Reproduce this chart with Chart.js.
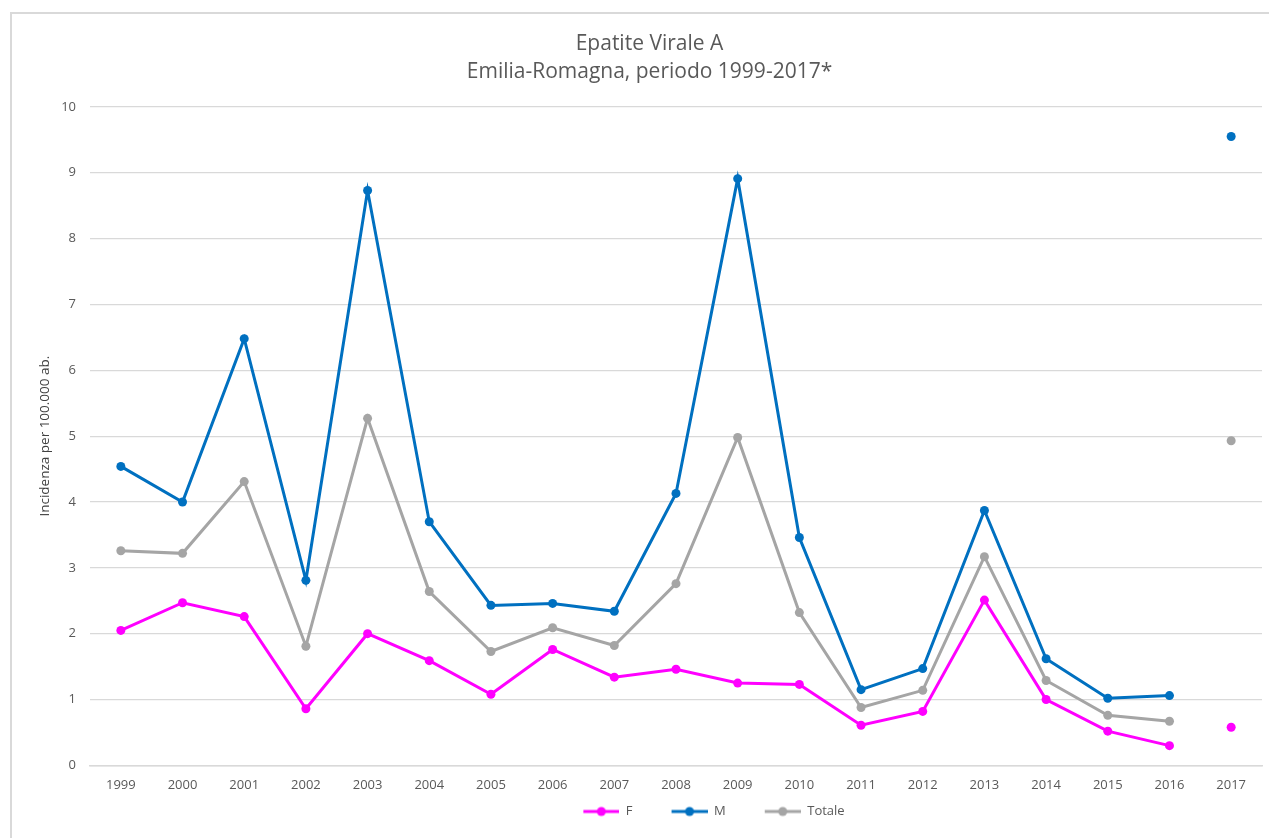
<!DOCTYPE html>
<html>
<head>
<meta charset="utf-8">
<script src="https://cdn.jsdelivr.net/npm/chart.js@4.4.1/dist/chart.umd.min.js"></script>
<style>
  html, body { margin: 0; padding: 0; background: #fff; }
  #wrap { position: relative; width: 1269px; height: 838px; overflow: hidden; }
  #frame { position: absolute; left: 10px; top: 12px; right: -10px; bottom: -10px;
           border-left: 2px solid #d9d9d9; border-top: 2px solid #d9d9d9; }
  canvas { position: absolute; left: 0; top: 0; }
</style>
</head>
<body>
<div id="wrap">
  <div id="frame"></div>
  <canvas id="lineChart" width="1269" height="838"></canvas>
</div>
<script>
const years = ['1999','2000','2001','2002','2003','2004','2005','2006','2007','2008',
               '2009','2010','2011','2012','2013','2014','2015','2016','2017'];
const femmine = [2.05, 2.47, 2.26, 0.86, 2.00, 1.59, 1.08, 1.76, 1.34, 1.46,
                 1.25, 1.23, 0.61, 0.82, 2.51, 1.00, 0.52, 0.30, 0.58];
const maschi = [4.54, 4.00, 6.48, 2.81, 8.73, 3.70, 2.43, 2.46, 2.34, 4.13,
                8.91, 3.46, 1.15, 1.47, 3.87, 1.62, 1.02, 1.06, 9.55];
const totale = [3.26, 3.22, 4.31, 1.81, 5.27, 2.64, 1.73, 2.09, 1.82, 2.76,
                4.98, 2.32, 0.88, 1.14, 3.17, 1.29, 0.76, 0.67, 4.93];
const yTicks = [0, 1, 2, 3, 4, 5, 6, 7, 8, 9, 10];

const FONT = '"Open Sans", sans-serif';
const TEXT = '#595959';

// 2017 is a provisional point, not joined to the line
const lastIndex = years.length - 1;
function noLastSegment(color) {
  return ctx => ctx.p1DataIndex === lastIndex ? 'rgba(0,0,0,0)' : color;
}

// "line + dot" legend marker, with empty room on the left for item spacing
const MARK_LEAD = 39;
const MARK_W = MARK_LEAD + 36;
function legendMarker(color) {
  const c = document.createElement('canvas');
  c.width = MARK_W; c.height = 12;
  const g = c.getContext('2d');
  g.strokeStyle = color; g.lineWidth = 3;
  g.beginPath(); g.moveTo(MARK_LEAD, 6); g.lineTo(MARK_W, 6); g.stroke();
  g.fillStyle = color;
  g.beginPath(); g.arc(MARK_LEAD + 18, 6, 4.5, 0, Math.PI * 2); g.fill();
  return c;
}

function makeSet(label, data, color) {
  return {
    label: label,
    data: data,
    borderColor: color,
    backgroundColor: color,
    borderWidth: 3,
    pointRadius: 4.5,
    pointHoverRadius: 5,
    pointBorderWidth: 0,
    tension: 0,
    segment: { borderColor: noLastSegment(color) },
    markerImg: legendMarker(color)
  };
}

// the original legend sits a bit right of the canvas centre
const shiftLegend = {
  id: 'shiftLegend',
  afterLayout(chart) {
    chart.legend.left += 45;
    chart.legend.right += 45;
  }
};

const ctx = document.getElementById('lineChart').getContext('2d');
new Chart(ctx, {
  type: 'line',
  data: {
    labels: years,
    datasets: [
      makeSet('F', femmine, '#ff00ff'),
      makeSet('M', maschi, '#0070c0'),
      makeSet('Totale', totale, '#a5a5a5')
    ]
  },
  options: {
    responsive: false,
    animation: false,
    layout: { padding: { left: 37, right: 7, top: 30, bottom: 10 } },
    scales: {
      x: {
        offset: true,
        grid: { display: false, drawTicks: false },
        border: { display: true, color: '#d9d9d9', width: 1.5 },
        ticks: { color: TEXT, font: { family: FONT, size: 13 }, padding: 12, maxRotation: 0 }
      },
      y: {
        min: 0, max: 10,
        afterBuildTicks: axis => { axis.ticks = yTicks.map(v => ({ value: v })); },
        afterFit: axis => { axis.width = 53; },
        grid: { color: '#d9d9d9', lineWidth: 1.2, drawTicks: false },
        border: { display: false },
        ticks: { color: TEXT, font: { family: FONT, size: 13 }, padding: 14 },
        title: {
          display: true,
          text: 'Incidenza per 100.000 ab.',
          color: '#404040',
          font: { family: FONT, size: 13.5 },
          padding: { top: 0, bottom: 8 }
        }
      }
    },
    plugins: {
      title: {
        display: true,
        text: ['Epatite Virale A', 'Emilia-Romagna, periodo 1999-2017*'],
        color: TEXT,
        font: { family: FONT, size: 21, weight: 'normal', lineHeight: 1.33 },
        padding: { top: 0, bottom: 21 }
      },
      legend: {
        position: 'bottom',
        labels: {
          color: TEXT,
          font: { family: FONT, size: 13 },
          usePointStyle: true,
          pointStyleWidth: MARK_W,
          padding: 0,
          generateLabels: chart => chart.data.datasets.map((ds, i) => ({
            text: ds.label,
            fontColor: TEXT,
            pointStyle: ds.markerImg,
            strokeStyle: ds.borderColor,
            fillStyle: ds.borderColor,
            lineWidth: 0,
            datasetIndex: i,
            hidden: false
          }))
        }
      },
      tooltip: { enabled: false }
    }
  },
  plugins: [shiftLegend]
});
</script>
</body>
</html>
